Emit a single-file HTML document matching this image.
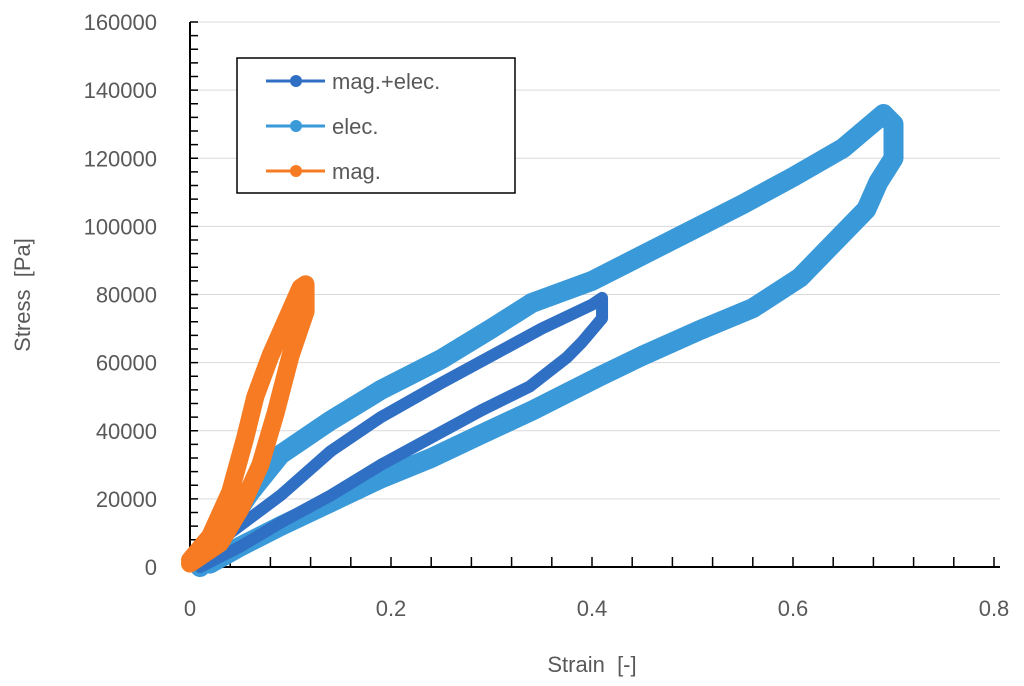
<!DOCTYPE html>
<html><head><meta charset="utf-8"><style>
body{margin:0;background:#fff}
svg{display:block;font-family:"Liberation Sans",sans-serif}
</style></head><body>
<svg id="chart" width="1024" height="686" viewBox="0 0 1024 686"></svg>
<script>
const xTicks=[0,0.2,0.4,0.6,0.8];
const yTicks=[0,20000,40000,60000,80000,100000,120000,140000,160000];
const elecX=[0.01,0.03,0.06,0.09,0.14,0.19,0.25,0.3,0.34,0.4,0.45,0.5,0.55,0.6,0.65,0.69,0.7,0.7,0.685,0.673,0.64,0.607,0.56,0.507,0.45,0.408,0.341,0.29,0.24,0.19,0.14,0.09,0.05,0.02];
const elecY=[0,9000,22000,33000,43000,52000,61000,70000,77500,84000,91500,99000,106500,114500,123000,133000,130000,120000,113000,105000,95000,85000,76000,69500,62000,56000,46000,39000,32000,26000,19000,12000,6000,1000];
const magElecX=[0.01,0.04,0.09,0.14,0.19,0.25,0.3,0.35,0.4,0.41,0.41,0.39,0.375,0.338,0.29,0.24,0.19,0.14,0.09,0.05,0.01];
const magElecY=[0,10000,21000,34000,44000,54000,62000,70000,77000,79000,73000,66000,61500,53000,46000,38000,30000,21000,13000,6000,0];
const magX=[0,0.02,0.04,0.055,0.065,0.08,0.095,0.11,0.115,0.115,0.1,0.085,0.07,0.05,0.03,0];
const magY=[2000,9000,22000,38000,50000,62000,72000,82000,83000,75000,62000,45000,30000,17000,7000,1000];
const X0=190,XW=1005,Y0=567,YH=545;
const sx=v=>X0+v*XW, sy=v=>Y0-v/160000*YH;
const svg=document.getElementById('chart');const NS='http://www.w3.org/2000/svg';
function mk(t,a,p){const e=document.createElementNS(NS,t);for(const k in a)e.setAttribute(k,a[k]);(p||svg).appendChild(e);return e;}
yTicks.forEach(v=>{if(v>0){const g=mk('line',{x1:X0,x2:1000,y1:sy(v),y2:sy(v),stroke:'#d9d9d9','stroke-width':1});

}
const t=mk('text',{x:157,y:sy(v)+8,'text-anchor':'end','font-size':22,fill:'#595959'});t.textContent=v;

});
for(let v=0;v<=160000;v+=4000){mk('line',{x1:X0,x2:X0+8,y1:sy(v),y2:sy(v),stroke:'#000','stroke-width':1.5});}
for(let v=0;v<=0.8001;v+=0.04){mk('line',{x1:sx(v),x2:sx(v),y1:Y0,y2:Y0-10,stroke:'#000','stroke-width':1.5});}
xTicks.forEach(v=>{const t=mk('text',{x:sx(v),y:616,'text-anchor':'middle','font-size':22,fill:'#595959'});t.textContent=v;

});
mk('line',{x1:X0,x2:X0,y1:22,y2:Y0,stroke:'#000','stroke-width':2});
mk('line',{x1:X0,x2:1000,y1:Y0,y2:Y0,stroke:'#000','stroke-width':2});
function series(xs,ys,c,w,name){const p=mk('polyline',{points:xs.map((x,i)=>sx(x)+','+sy(ys[i])).join(' '),fill:'none',stroke:c,'stroke-width':w,'stroke-linejoin':'round','stroke-linecap':'round'});

}
series(elecX,elecY,'#3a9ad9',20,'elec-series');
series(magElecX,magElecY,'#2f6fc4',12,'mag-elec-series');
series(magX,magY,'#f67b22',18,'mag-series');
const xt=mk('text',{x:592,y:672,'text-anchor':'middle','font-size':22,fill:'#595959'});xt.textContent='Strain\u00a0\u00a0[-]';


const yt=mk('text',{x:0,y:0,'text-anchor':'middle','font-size':22,fill:'#595959',transform:'translate(30,295) rotate(-90)'});yt.textContent='Stress\u00a0\u00a0[Pa]';


const lg=mk('g',{});


mk('rect',{x:237,y:58,width:278,height:135,fill:'#fff',stroke:'#000','stroke-width':1.5},lg);
[['mag.+elec.','#2f6fc4'],['elec.','#3a9ad9'],['mag.','#f67b22']].forEach((d,i)=>{const y=81+i*45;
mk('line',{x1:266,x2:325,y1:y,y2:y,stroke:d[1],'stroke-width':3},lg);
mk('circle',{cx:296,cy:y,r:6,fill:d[1]},lg);
const t=mk('text',{x:332,y:y+8,'font-size':22,fill:'#595959'},lg);t.textContent=d[0];

});
</script>
</body></html>
